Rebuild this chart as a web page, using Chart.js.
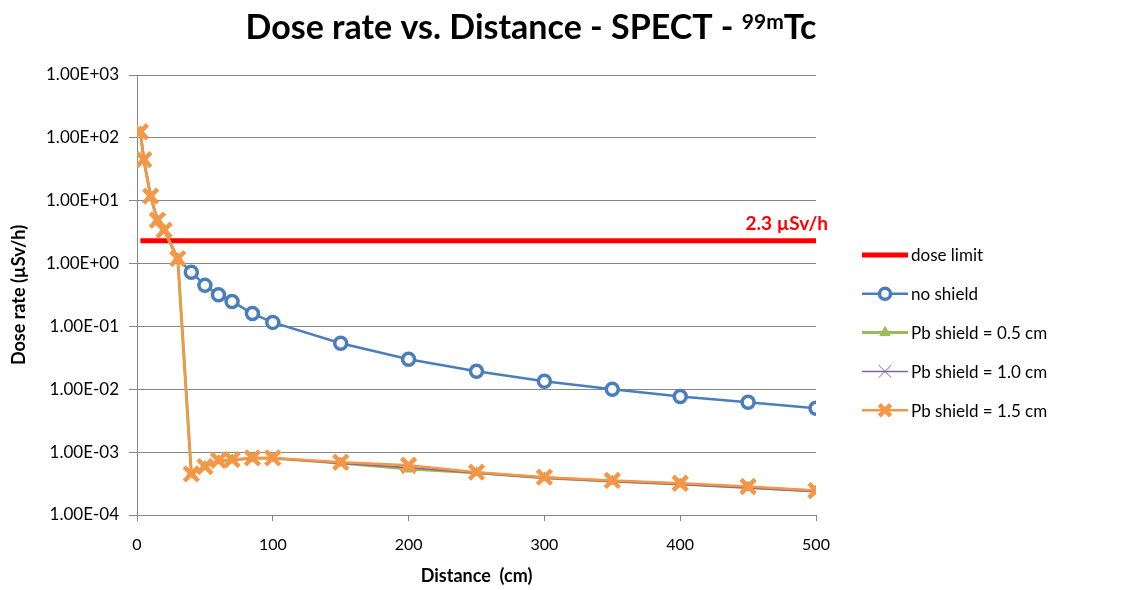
<!DOCTYPE html>
<html>
<head>
<meta charset="utf-8">
<script src="https://cdn.jsdelivr.net/npm/chart.js@4.4.0/dist/chart.umd.min.js"></script>
<style>
  html, body { margin: 0; padding: 0; background: #fff; }
  #wrap { width: 1127px; height: 590px; }
</style>
</head>
<body>
<div id="wrap"><canvas id="doseChart" width="1127" height="590"></canvas></div>
<script>
// --- data ---
const distances = [2.5, 5, 10, 15, 20, 30, 40, 50, 60, 70, 85, 100, 150, 200, 250, 300, 350, 400, 450, 500];
const noShield   = [125, 45, 11.8, 4.9, 3.4, 1.2, 0.73, 0.45, 0.32, 0.25, 0.16, 0.116, 0.054, 0.030, 0.0193, 0.0134, 0.0100, 0.0077, 0.0062, 0.0050];
const pbShield05 = [125, 45, 11.8, 4.9, 3.4, 1.2, 4.5e-4, 5.9e-4, 7.3e-4, 7.5e-4, 8.0e-4, 8.0e-4, 6.7e-4, 5.4e-4, 4.7e-4, 3.9e-4, 3.45e-4, 3.1e-4, 2.75e-4, 2.4e-4];
const pbShield10 = [125, 45, 11.8, 4.9, 3.4, 1.2, 4.5e-4, 5.9e-4, 7.3e-4, 7.5e-4, 8.0e-4, 8.0e-4, 6.6e-4, 5.7e-4, 4.6e-4, 3.85e-4, 3.4e-4, 3.05e-4, 2.7e-4, 2.35e-4];
const pbShield15 = [125, 45, 11.8, 4.9, 3.4, 1.2, 4.5e-4, 5.9e-4, 7.4e-4, 7.6e-4, 8.1e-4, 8.1e-4, 6.9e-4, 6.2e-4, 4.8e-4, 4.0e-4, 3.55e-4, 3.2e-4, 2.84e-4, 2.45e-4];
const limitX = [2.5, 500];
const limitY = [2.3, 2.3];
const xTicks = [0, 100, 200, 300, 400, 500];
const yTicks = [1e-4, 1e-3, 1e-2, 1e-1, 1, 10, 100, 1000];
const seriesNames = ['dose limit', 'no shield', 'Pb shield = 0.5 cm', 'Pb shield = 1.0 cm', 'Pb shield = 1.5 cm'];
const limitLabel = '2.3 \u00B5Sv/h';
const titleMain = 'Dose rate vs. Distance - SPECT - ';
const titleSup = '99m';
const titleTail = 'Tc';

const FONT = 'Lato';

function pairs(xs, ys) {
  return xs.map((x, i) => ({ x: x, y: ys[i] }));
}

// 1.00E+03 style
function sci(v) {
  const e = Math.floor(Math.log10(v) + 1e-9);
  const m = v / Math.pow(10, e);
  return m.toFixed(2) + 'E' + (e < 0 ? '-' : '+') + String(Math.abs(e)).padStart(2, '0');
}

// title with superscript
const titlePlugin = {
  id: 'excelTitle',
  afterDraw(chart) {
    const ctx = chart.ctx;
    ctx.save();
    ctx.fillStyle = '#000';
    ctx.textBaseline = 'alphabetic';
    ctx.textAlign = 'left';
    ctx.font = 'bold 34px ' + FONT;
    const w1 = ctx.measureText(titleMain).width;
    const w3 = ctx.measureText(titleTail).width;
    ctx.font = 'bold 21px ' + FONT;
    const w2 = ctx.measureText(titleSup).width;
    let x = 531 - (w1 + w2 + w3) / 2;
    const y = 39;
    ctx.font = 'bold 34px ' + FONT;
    ctx.fillText(titleMain, x, y);
    x += w1;
    ctx.font = 'bold 21px ' + FONT;
    ctx.fillText(titleSup, x, y - 10);
    x += w2;
    ctx.font = 'bold 34px ' + FONT;
    ctx.fillText(titleTail, x, y);
    ctx.restore();
  }
};

// red label above the dose limit line
const limitLabelPlugin = {
  id: 'limitLabel',
  afterDatasetsDraw(chart) {
    const ctx = chart.ctx;
    const px = chart.scales.x.getPixelForValue(limitX[1]);
    const py = chart.scales.y.getPixelForValue(limitY[1]);
    ctx.save();
    ctx.font = 'bold 19px ' + FONT;
    ctx.fillStyle = '#ff0000';
    ctx.textAlign = 'right';
    ctx.textBaseline = 'alphabetic';
    ctx.fillText(limitLabel, px + 12, py - 11);
    ctx.restore();
  }
};

// Excel-like legend on the right (line + marker)
const sideLegend = {
  id: 'sideLegend',
  afterDraw(chart) {
    const ctx = chart.ctx;
    const x0 = 862, lineLen = 46, y0 = 255, gap = 38.8;
    ctx.save();
    chart.data.datasets.forEach((ds, i) => {
      const y = y0 + i * gap;
      ctx.strokeStyle = ds.borderColor;
      ctx.lineWidth = ds.borderWidth;
      ctx.beginPath();
      ctx.moveTo(x0, y);
      ctx.lineTo(x0 + lineLen, y);
      ctx.stroke();
      if (ds.legendRadius) {
        ctx.fillStyle = ds.pointBackgroundColor;
        ctx.strokeStyle = ds.pointBorderColor;
        ctx.lineWidth = ds.pointBorderWidth;
        Chart.helpers.drawPoint(ctx, {
          pointStyle: ds.pointStyle, radius: ds.legendRadius,
          borderWidth: ds.pointBorderWidth, rotation: 0
        }, x0 + lineLen / 2, y);
      }
      ctx.fillStyle = '#000';
      ctx.font = '17px ' + FONT;
      ctx.textAlign = 'left';
      ctx.textBaseline = 'middle';
      ctx.fillText(ds.label, x0 + lineLen + 3, y + 1);
    });
    ctx.restore();
  }
};

const ctx = document.getElementById('doseChart').getContext('2d');
new Chart(ctx, {
  type: 'line',
  data: {
    datasets: [
      {
        label: seriesNames[0], data: pairs(limitX, limitY), order: 4,
        borderColor: '#ff0000', borderWidth: 5, pointRadius: 0, legendRadius: 0
      },
      {
        label: seriesNames[1], data: pairs(distances, noShield), order: 3,
        borderColor: '#4a7ebb', borderWidth: 2.5,
        pointStyle: 'circle', pointRadius: c => (c.raw && c.raw.x < 40 ? 0 : 6),
        pointBorderWidth: 3.5, pointBorderColor: '#4a7ebb', pointBackgroundColor: '#ffffff',
        legendRadius: 5.5
      },
      {
        label: seriesNames[2], data: pairs(distances, pbShield05), order: 2,
        borderColor: '#9bbb59', borderWidth: 3,
        pointStyle: 'triangle', pointRadius: 6, pointBorderWidth: 1,
        pointBorderColor: '#9bbb59', pointBackgroundColor: '#9bbb59',
        legendRadius: 6
      },
      {
        label: seriesNames[3], data: pairs(distances, pbShield10), order: 1,
        borderColor: '#8064a2', borderWidth: 1.5,
        pointStyle: 'crossRot', pointRadius: 9, pointBorderWidth: 1,
        pointBorderColor: '#8064a2', pointBackgroundColor: '#8064a2',
        legendRadius: 9
      },
      {
        label: seriesNames[4], data: pairs(distances, pbShield15), order: 0,
        borderColor: '#f79646', borderWidth: 2.5,
        pointStyle: 'crossRot', pointRadius: 10, pointBorderWidth: 4.5,
        pointBorderColor: '#f79646', pointBackgroundColor: '#f79646',
        legendRadius: 8
      }
    ]
  },
  options: {
    responsive: false,
    animation: false,
    layout: { padding: { top: 75, right: 311, bottom: 0, left: 0 } },
    plugins: { legend: { display: false }, tooltip: { enabled: false } },
    elements: { line: { tension: 0 } },
    scales: {
      x: {
        type: 'linear', min: 0, max: 500,
        afterBuildTicks(scale) { scale.ticks = xTicks.map(v => ({ value: v })); },
        afterFit(scale) { scale.height = 75; },
        ticks: { font: { family: FONT, size: 16 }, color: '#000', padding: 14 },
        grid: { drawOnChartArea: false, drawTicks: true, tickLength: 6, color: '#878787' },
        border: { color: '#878787', width: 1 },
        title: {
          display: true, text: 'Distance  (cm)', color: '#000',
          font: { family: FONT, size: 18, weight: 'bold' }, padding: { top: 0, bottom: 3 }
        }
      },
      y: {
        type: 'logarithmic', min: 1e-4, max: 1e3,
        afterBuildTicks(scale) { scale.ticks = yTicks.map(v => ({ value: v })); },
        afterFit(scale) { scale.width = 137; },
        ticks: { callback: v => sci(v), font: { family: FONT, size: 17 }, color: '#000', padding: 10, autoSkip: false },
        grid: { color: '#878787', lineWidth: 1, tickLength: 8 },
        border: { color: '#878787', width: 1 },
        title: {
          display: true, text: 'Dose rate (\u00B5Sv/h)', color: '#000',
          font: { family: FONT, size: 18, weight: 'bold' }, padding: { top: 8, bottom: 0 }
        }
      }
    }
  },
  plugins: [titlePlugin, limitLabelPlugin, sideLegend]
});
</script>
</body>
</html>
